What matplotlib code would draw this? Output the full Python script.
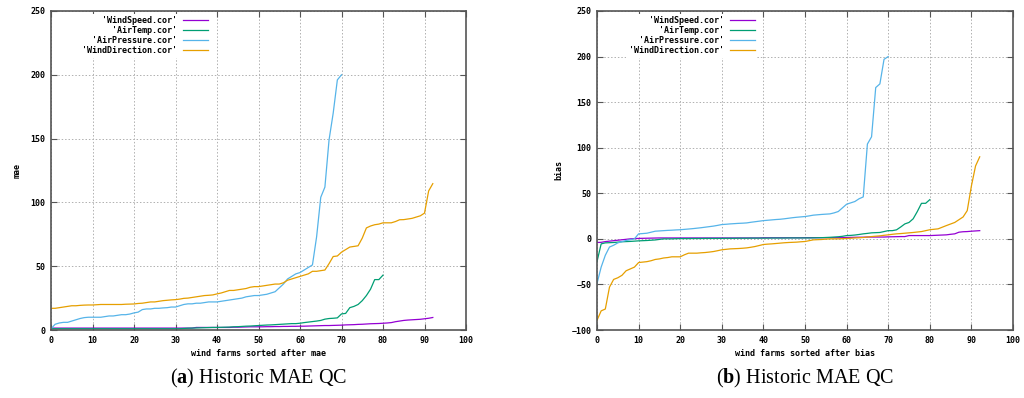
import numpy as np
import matplotlib
matplotlib.use('Agg')
import matplotlib.pyplot as plt

# ---- data ----
mae_windspeed = [1.5]*35 + [2, 2, 2, 2, 2,
                 2, 2, 2, 2, 2.2, 2.2, 2.3, 2.4, 2.5, 2.5,
                 2.5, 2.5, 2.6, 2.6, 2.7, 2.7, 2.8, 2.8, 2.9, 2.9,
                 3, 3, 3.1, 3.2, 3.3, 3.4, 3.5, 3.5, 3.6, 3.7,
                 3.8, 4, 4.1, 4.2, 4.4, 4.5, 4.7, 4.9, 5, 5.1,
                 5.3, 5.5, 5.8, 6.5, 7, 7.5, 7.8, 8, 8.2, 8.4,
                 8.8, 9.2, 9.8]
mae_airtemp = [1]*32 + [1.2, 1.4, 1.5, 1.6, 1.7, 1.8, 1.9, 2,
               2, 2.1, 2.2, 2.3, 2.5, 2.6, 2.8, 3, 3.1, 3.3,
               3.5, 3.7, 3.9, 4, 4.2, 4.4, 4.6, 4.8, 5, 5,
               5.3, 5.8, 6.2, 6.6, 7, 7.5, 8.5, 9, 9.2, 9.5,
               12.6, 13, 17.5, 18.5, 20, 23, 27, 32, 39.5, 39.5, 43]
mae_airpressure = [1, 4.5, 5.5, 6, 6, 7, 8, 9, 9.7, 10,
                   10, 10, 10, 10.5, 11, 11, 11.5, 12, 12, 12.5,
                   13.4, 14, 16, 16.5, 16.5, 17, 17, 17.3, 17.5, 18,
                   18, 19, 20, 20.5, 20.5, 21, 21, 21.5, 22, 22,
                   22, 22.5, 23, 23.5, 24, 24.5, 25, 26, 26.5, 27,
                   27, 27.5, 28, 29, 30, 33, 36, 40, 42, 44,
                   45, 47, 49, 51, 73, 104, 112, 149, 170, 196,
                   200]
mae_winddirection = [17, 17, 17.5, 18, 18.5, 19, 19, 19.3, 19.5, 19.6,
                     19.6, 19.8, 20, 20, 20, 20, 20, 20, 20.2, 20.3,
                     20.4, 20.8, 21, 21.5, 22, 22, 22.5, 23, 23.3, 23.6,
                     23.8, 24.2, 24.8, 25, 25.5, 26, 26.5, 27, 27.2, 27.5,
                     28.3, 29, 30, 31, 31, 31.5, 32, 32.5, 33.5, 34,
                     34, 34.5, 35, 35.5, 36, 36, 37, 39, 40, 41,
                     42, 43, 44, 46, 46, 46.5, 47, 52, 57.6, 58,
                     61, 63, 65, 65.5, 66, 72, 80, 81.5, 82.5, 83,
                     84, 84, 84, 85, 86.4, 86.5, 87, 87.5, 88.5, 89.5,
                     91.6, 109, 114.7]

bias_windspeed = [-4, -3.8, -3, -2.5, -2, -1.5, -1, -0.5, 0, 0.3,
                  0.5, 0.6, 0.7, 0.8, 0.9] + [1]*25 + [1.2]*10 + [1.3]*10 + \
                 [1.5, 1.6, 1.7, 1.8, 1.8, 2, 2, 2, 2, 2,
                  2.2, 2.3, 2.4, 2.5, 2.5, 3.6, 3.6, 3.6, 3.6, 3.6,
                  3.6, 3.8, 4, 4.2, 4.4, 5, 5.5, 7.3, 7.8, 8,
                  8.4, 8.7, 9]
bias_airtemp = [-25, -5.5, -4.4, -4.2, -4, -3.6, -3.2, -3, -2.8, -2.5,
                -2.2, -2, -1.8, -1.5, -1.2, -0.6, 0, 0, 0, 0.2,
                0.3, 0.3, 0.3, 0.4, 0.4, 0.4, 0.5, 0.5, 0.5, 0.5,
                0.5, 0.6, 0.6, 0.6, 0.7, 0.7, 0.7, 0.8, 0.8, 0.8,
                0.8, 0.8, 0.9, 0.9, 0.9, 0.9, 1, 1, 1, 1,
                1, 1, 1.1, 1.2, 1.3, 1.5, 1.7, 2, 2.3, 2.8,
                3.6, 3.8, 4.2, 4.8, 5.5, 6, 6.6, 6.8, 7, 8,
                9, 9, 9.9, 13, 16.4, 18, 22, 30, 39, 39, 43]
bias_airpressure = [-49, -31, -18, -9, -7, -4.4, -3, -1.8, -1, 0,
                    5.5, 5.8, 6.2, 7.3, 8.4, 8.7, 9, 9.3, 9.5, 9.8,
                    10, 10.4, 10.8, 11.2, 11.7, 12.2, 12.8, 13.4, 14, 14.8,
                    15.7, 16, 16.4, 16.7, 17, 17.2, 17.5, 18.2, 18.8, 19.4,
                    20, 20.4, 20.8, 21.2, 21.5, 22, 22.6, 23.2, 23.7, 24.1,
                    24.5, 25.2, 26, 26.4, 26.8, 27.1, 27.4, 28.5, 30, 34,
                    38, 39.5, 41, 44, 46, 104, 112, 166, 170, 197,
                    200]
bias_winddirection = [-89.4, -79, -77, -53, -44.5, -42.7, -40, -35, -33, -31,
                      -26, -25.5, -25, -24, -22.6, -22, -21, -20.5, -19.7, -19.7,
                      -19.7, -17.5, -15.7, -15.7, -15.7, -15.3, -15, -14.5, -13.9, -13,
                      -12, -11.5, -11, -10.8, -10.6, -10.3, -9.9, -9.2, -8.4, -7.3,
                      -6.2, -5.8, -5.5, -5.1, -4.7, -4.3, -4, -3.8, -3.6, -3.2,
                      -2.9, -2, -1.1, -0.9, -0.7, -0.3, 0, 0, 0, 0.2,
                      0.4, 0.7, 1, 1.2, 1.5, 2, 2.5, 2.9, 3.3, 3.9,
                      4.4, 5, 5.5, 5.8, 6.2, 6.6, 7, 7.5, 8, 9,
                      10, 10.5, 11, 12.8, 14.6, 16.3, 18, 21, 24, 31,
                      58, 80, 90]

names = ["'WindSpeed.cor'", "'AirTemp.cor'", "'AirPressure.cor'", "'WindDirection.cor'"]
colors = ['#9400d3', '#009e73', '#56b4e9', '#e69f00']

plt.rcParams['mathtext.fontset'] = 'custom'
plt.rcParams['mathtext.rm'] = 'Liberation Serif'
plt.rcParams['mathtext.bf'] = 'Liberation Serif:bold'

mono = dict(family='DejaVu Sans Mono', weight='bold', size=6)

fig = plt.figure(figsize=(10.24, 3.98), dpi=100)
ax1 = fig.add_axes([51/1024, 68/398, 415/1024, 319/398])
ax2 = fig.add_axes([597/1024, 68/398, 416/1024, 319/398])

panels = [
    (ax1, [mae_windspeed, mae_airtemp, mae_airpressure, mae_winddirection],
     'mae', 'wind farms sorted after mae', (0, 250)),
    (ax2, [bias_windspeed, bias_airtemp, bias_airpressure, bias_winddirection],
     'bias', 'wind farms sorted after bias', (-100, 250)),
]

for ax, series, ylab, xlab, ylim in panels:
    for vals, name, col in zip(series, names, colors):
        ax.plot(np.arange(len(vals)), vals, color=col, lw=0.9, label=name)
    ax.set_xlim(0, 100)
    ax.set_ylim(*ylim)
    ax.set_xticks(np.arange(0, 101, 10))
    ax.set_yticks(np.arange(ylim[0], 251, 50))
    ax.grid(True, color='#b0b0b0', linestyle=(0, (1.5, 2)), lw=0.7)
    ax.tick_params(direction='in', length=4, width=0.8, top=True, right=True,
                   color='#555555', pad=4)
    for lbl in ax.get_xticklabels() + ax.get_yticklabels():
        lbl.set_fontfamily(mono['family'])
        lbl.set_fontweight('bold')
        lbl.set_fontsize(mono['size'])
    for sp in ax.spines.values():
        sp.set_color('#555555')
        sp.set_linewidth(1.2)
    ax.set_ylabel(ylab, fontdict=mono, labelpad=6)
    ax.set_xlabel(xlab, fontdict=mono, labelpad=3)
    leg = ax.legend(loc='upper right', bbox_to_anchor=(0.395, 1.005), markerfirst=False,
                    prop=dict(family='DejaVu Sans Mono', weight='bold', size=6),
                    frameon=True, framealpha=1, edgecolor='none', facecolor='white',
                    handlelength=3.0, handletextpad=0.7, labelspacing=0.12,
                    borderpad=0.3, fancybox=False)
    for t in leg.get_texts():
        t.set_ha('right')

fig.text(258/1024, 1 - 378/398, r'($\mathbf{a}$) Historic MAE QC', ha='center', va='center',
         fontsize=14.5, family='Liberation Serif')
fig.text(805/1024, 1 - 378/398, r'($\mathbf{b}$) Historic MAE QC', ha='center', va='center',
         fontsize=14.5, family='Liberation Serif')

fig.savefig('out.png', dpi=100)
